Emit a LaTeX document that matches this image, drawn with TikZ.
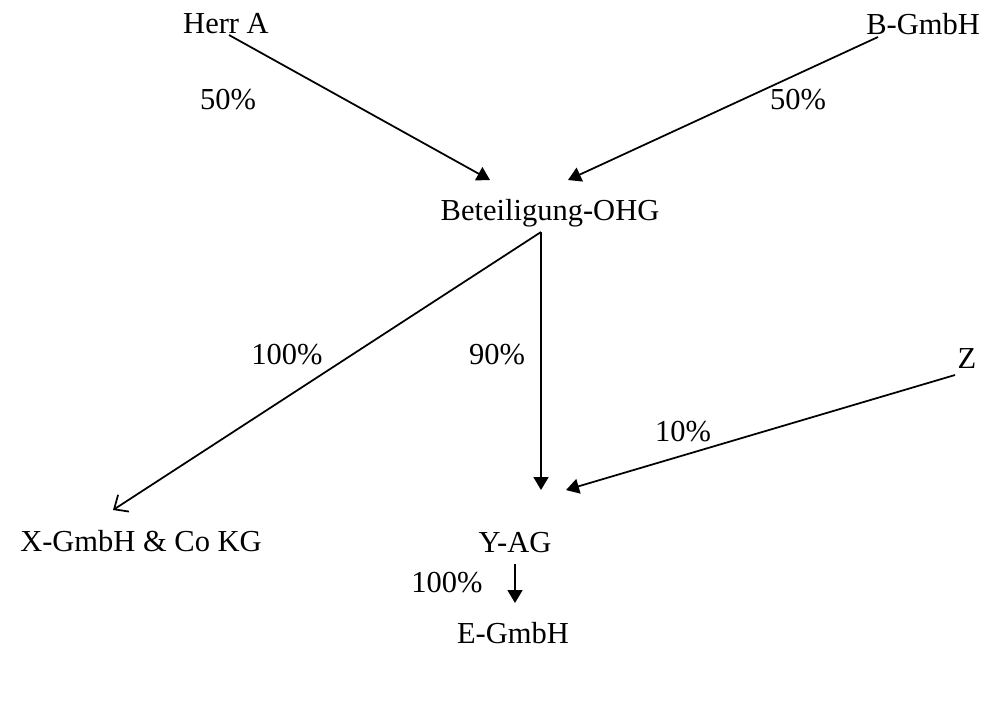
\documentclass[tikz,border=0pt]{standalone}
\usepackage{fontspec}
\setmainfont{Liberation Serif}
\usetikzlibrary{arrows.meta,calc}
\tikzset{
party/.style={inner sep=1pt,font=\fontsize{12.2}{14}\selectfont},
share/.style={inner sep=1pt,font=\fontsize{12.2}{14}\selectfont},
hold/.style={-{Triangle[length=5.2pt,width=6pt]},line width=0.7pt},
openhold/.style={-{Straight Barb[length=4.5pt,width=8pt]},line width=0.7pt}
}
\begin{document}
\begin{tikzpicture}[x=0.4pt,y=-0.4pt]
\useasboundingbox (0,0) rectangle (985,701);
\node[party](herrA) at (226,24){Herr A};
\node[party](bgmbh) at (923,24){B-GmbH};
\node[party](ohg) at (550,213){Beteiligung-OHG};
\node[party](z) at (967,359){Z};
\node[party](xkg) at (141,541){X-GmbH \& Co KG};
\node[party](yag) at (515,543){Y-AG};
\node[party](egmbh) at (513,633){E-GmbH};
\draw[hold]($(herrA)+(3,11)$)--($(ohg)+(-60,-33)$);
\draw[hold]($(bgmbh)+(-45,13)$)--($(ohg)+(18,-33)$);
\draw[openhold]($(ohg)+(-9,19)$)--($(xkg)+(-28,-31)$);
\draw[hold]($(ohg)+(-9,19)$)--($(yag)+(26,-53)$);
\draw[hold]($(z)+(-12,16)$)--($(yag)+(51,-53)$);
\draw[hold]($(yag)+(0,21)$)--($(egmbh)+(2,-30)$);
\node[share](pA) at (228,100){50\%};
\node[share](pB) at (798,100){50\%};
\node[share](pX) at (287,355){100\%};
\node[share](pY) at (497,355){90\%};
\node[share](pZ) at (683,432){10\%};
\node[share](pE) at (447,583){100\%};
\end{tikzpicture}
\end{document}
